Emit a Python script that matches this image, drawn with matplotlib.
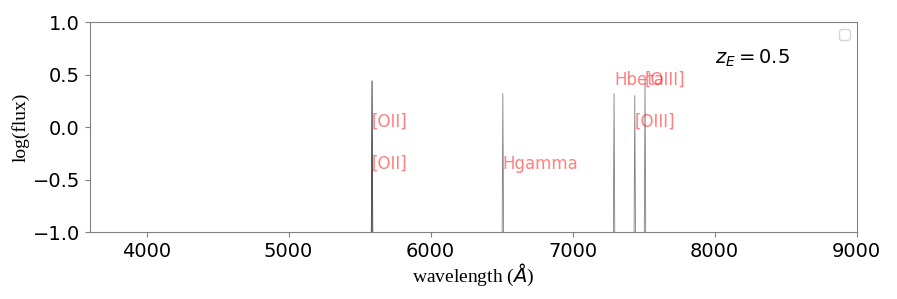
import numpy as np
import matplotlib.pyplot as plt

# Lineas de emision observadas (z = 0.5)
z = 0.5
line_names = ["[OII]", "[OII]", "Hgamma", "Hbeta", "[OIII]", "[OIII]"]
line_wave = [5588, 5588, 6509, 7292, 7438, 7510]
line_peak = [0.44, 0.44, 0.32, 0.32, 0.30, 0.45]
label_y = [0.0, -0.4, -0.4, 0.4, 0.0, 0.4]
half_width = 5

fig = plt.figure(figsize=(8.97, 2.99), dpi=100)
ax = fig.add_axes([0.100, 0.224, 0.855, 0.702])

# Espectro: picos estrechos desde el fondo
for w, p in zip(line_wave, line_peak):
    ax.plot([w - half_width, w, w + half_width], [-1.0, p, -1.0],
            color="black", lw=0.6, alpha=0.5)

for name, w, y in zip(line_names, line_wave, label_y):
    ax.text(w, y, name, color="red", alpha=0.5, fontsize=12)

ax.text(8000, 0.6, r"$z_E = 0.5$", fontsize=14)
ax.legend(handles=[], loc="upper right")

ax.set_xlim(3600, 9000)
ax.set_ylim(-1.0, 1.0)
ax.set_xticks([4000, 5000, 6000, 7000, 8000, 9000])
ax.set_yticks([-1.0, -0.5, 0.0, 0.5, 1.0])
ax.tick_params(labelsize=14, color="gray")
for s in ax.spines.values():
    s.set_color("gray")

ax.set_xlabel(r"wavelength ($\AA$)", family="Liberation Serif", fontsize=14, labelpad=1)
ax.set_ylabel("log(flux)", family="Liberation Serif", fontsize=14, labelpad=2)

fig.savefig("out.png")
